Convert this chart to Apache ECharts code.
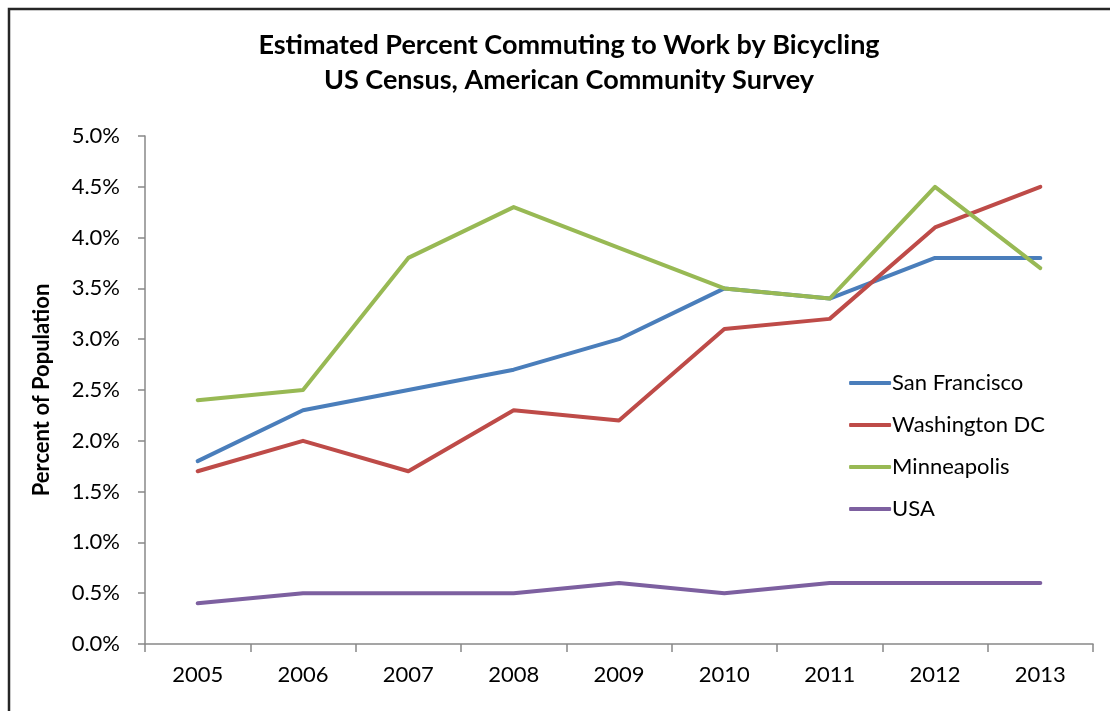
<!DOCTYPE html>
<html><head><meta charset="utf-8">
<script src="https://cdn.jsdelivr.net/npm/echarts@6/dist/echarts.min.js"></script>
<style>html,body{margin:0;padding:0;background:#fff}#c{width:1110px;height:711px}</style>
</head><body><div id="c"></div>
<script>
const years = ['2005','2006','2007','2008','2009','2010','2011','2012','2013'];
const sanFrancisco = [1.8, 2.3, 2.5, 2.7, 3.0, 3.5, 3.4, 3.8, 3.8];
const washingtonDC = [1.7, 2.0, 1.7, 2.3, 2.2, 3.1, 3.2, 4.1, 4.5];
const minneapolis = [2.4, 2.5, 3.8, 4.3, 3.9, 3.5, 3.4, 4.5, 3.7];
const usa = [0.4, 0.5, 0.5, 0.5, 0.6, 0.5, 0.6, 0.6, 0.6];
const seriesNames = ['San Francisco','Washington DC','Minneapolis','USA'];
const colors = ['#4a7ebb','#be4b48','#98b954','#7d60a0'];

const font = 'Lato, "Liberation Sans", sans-serif';
const chart = echarts.init(document.getElementById('c'), null, {renderer:'canvas'});
const mk = (name, data, i) => ({
  name, type:'line', data, symbol:'none', smooth:false,
  lineStyle:{color:colors[i], width:4, cap:'round', join:'round'},
  itemStyle:{color:colors[i]}
});
chart.setOption({
  animation:false,
  graphic:[{type:'rect', shape:{x:9, y:9, width:1200, height:800}, style:{fill:'none', stroke:'#262626', lineWidth:2.5}, silent:true}],
  title:{
    text:'Estimated Percent Commuting to Work by Bicycling\nUS Census, American Community Survey',
    left:564, top:23, textAlign:'center',
    textStyle:{fontFamily:font, fontWeight:'bold', fontSize:27, color:'#000', lineHeight:35}
  },
  legend:{
    orient:'vertical', right:60, top:367, itemGap:20, itemWidth:42, itemHeight:4,
    icon:'roundRect',
    textStyle:{fontFamily:font, fontSize:22, lineHeight:22, color:'#000', padding:[0,0,0,-4]},
    data:seriesNames
  },
  grid:{left:145, top:136, right:17, bottom:67},
  xAxis:{
    type:'category', data:years, boundaryGap:true,
    axisLine:{lineStyle:{color:'#888', width:1.5}},
    axisTick:{show:true, length:8, lineStyle:{color:'#888', width:1.5}},
    axisLabel:{fontFamily:font, fontSize:22, color:'#000', margin:20}
  },
  yAxis:{
    type:'value', min:0, max:5, interval:0.5,
    name:'Percent of Population', nameLocation:'middle', nameGap:92, nameRotate:90,
    nameTextStyle:{fontFamily:font, fontWeight:'bold', fontSize:22, color:'#000'},
    axisLine:{show:true, lineStyle:{color:'#888', width:1.5}},
    axisTick:{show:true, length:7, lineStyle:{color:'#888', width:1.5}},
    splitLine:{show:false},
    axisLabel:{fontFamily:font, fontSize:22, color:'#000', margin:25, formatter:v=>v.toFixed(1)+'%'}
  },
  series:[mk(seriesNames[0], sanFrancisco, 0), mk(seriesNames[1], washingtonDC, 1), mk(seriesNames[2], minneapolis, 2), mk(seriesNames[3], usa, 3)]
});
</script></body></html>
